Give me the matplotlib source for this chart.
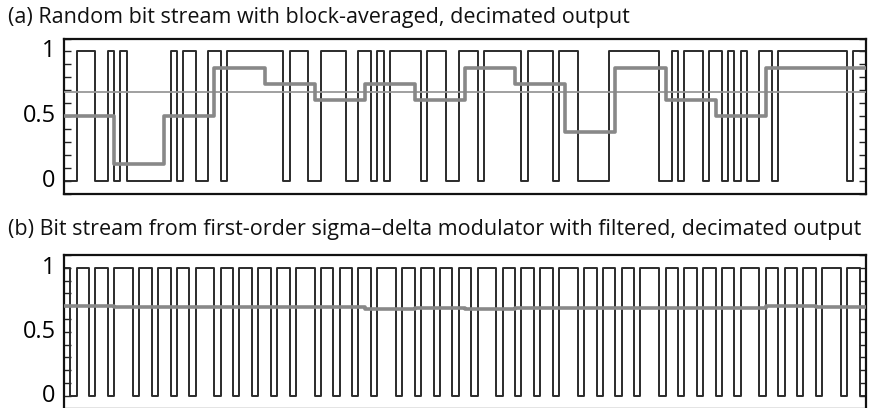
import numpy as np
import matplotlib
matplotlib.use("Agg")
import matplotlib.pyplot as plt
from matplotlib.ticker import MultipleLocator, FixedLocator

plt.rcParams['font.family'] = ['Open Sans', 'DejaVu Sans']

title_a = "(a) Random bit stream with block-averaged, decimated output"
title_b = "(b) Bit stream from first-order sigma\u2013delta modulator with filtered, decimated output"

bits_a = [0, 0, 1, 1, 1, 0, 0, 1, 0, 1, 0, 0, 0, 0, 0, 0,
          0, 1, 0, 1, 1, 0, 0, 1, 1, 0, 1, 1, 1, 1, 1, 1,
          1, 1, 1, 0, 1, 1, 1, 0, 0, 1, 1, 1, 1, 0, 0, 1,
          1, 0, 1, 0, 1, 1, 1, 1, 1, 0, 1, 1, 1, 0, 0, 1,
          1, 1, 0, 1, 1, 1, 1, 1, 1, 0, 1, 1, 1, 1, 0, 1,
          1, 1, 0, 0, 0, 0, 0, 1, 1, 1, 1, 1, 1, 1, 1, 0,
          0, 1, 0, 1, 1, 1, 0, 1, 1, 0, 1, 0, 1, 0, 0, 1,
          1, 0, 1, 1, 1, 1, 1, 1, 1, 1, 1, 1, 1, 0, 1, 1]
block_avg_a = [0.5, 0.125, 0.5, 0.875, 0.75, 0.625, 0.75, 0.625,
               0.875, 0.75, 0.375, 0.875, 0.625, 0.5, 0.875, 0.875]
input_level_a = 0.685

bits_b = [1, 0, 1, 1, 0, 1, 1, 0, 1, 1, 1, 0, 1, 1, 0, 1,
          1, 0, 1, 1, 0, 1, 1, 1, 0, 1, 1, 0, 1, 1, 0, 1,
          1, 0, 1, 1, 0, 1, 1, 1, 0, 1, 1, 0, 1, 1, 0, 1,
          1, 0, 1, 1, 1, 0, 1, 1, 0, 1, 1, 0, 1, 1, 0, 1,
          1, 0, 1, 1, 1, 0, 1, 1, 0, 1, 1, 0, 1, 1, 0, 1,
          1, 1, 0, 1, 1, 0, 1, 1, 0, 1, 1, 0, 1, 1, 1, 0,
          1, 1, 0, 1, 1, 0, 1, 1, 0, 1, 1, 0, 1, 1, 1, 0,
          1, 1, 0, 1, 1, 0, 1, 1, 0, 1, 1, 1, 0, 1, 1, 0]
filtered_b = [0.698, 0.692, 0.697, 0.690, 0.697, 0.690, 0.681, 0.686,
              0.681, 0.686, 0.682, 0.686, 0.686, 0.688, 0.698, 0.691]

block_len = 8
ytick_labels = ["0", "0.5", "1"]

W, H = 871, 408
fig = plt.figure(figsize=(W / 100, H / 100), dpi=100)
renderer = fig.canvas.get_renderer()

def fit_size(text, target_px, base=14.0):
    t = fig.text(0, 0, text, fontsize=base)
    w = t.get_window_extent(renderer=renderer).width
    t.remove()
    return base * target_px / w

title_size = fit_size(title_b, 857)
tick_size = fit_size("0.5", 33)

def make_axes(left, top, right, bottom):
    return fig.add_axes([left / W, 1 - bottom / H, (right - left) / W, (bottom - top) / H])

ax_a = make_axes(64, 38.5, 866, 193.5)
ax_b = make_axes(64, 255, 866, 408.5)

bit_color = "#2b2b2b"
avg_color = "#888888"
const_color = "#999999"

def style(ax):
    ax.set_xlim(0, len(bits_a))
    ax.set_ylim(-0.1, 1.1)
    ax.set_xticks([])
    ax.yaxis.set_major_locator(FixedLocator([0, 0.5, 1]))
    ax.set_yticklabels(ytick_labels)
    ax.yaxis.set_minor_locator(MultipleLocator(0.1))
    ax.tick_params(axis='y', which='both', direction='in', left=True, right=True,
                   length=5.2, width=1.0, color='#222222', labelsize=tick_size, pad=6)
    for lab in ax.get_yticklabels():
        lab.set_va('center')
    for s in ax.spines.values():
        s.set_linewidth(1.6)
        s.set_color('#111111')

def step_xy(vals, step):
    x = np.arange(len(vals) + 1) * step
    y = list(vals) + [vals[-1]]
    return x, y

# panel a
x, y = step_xy(bits_a, 1)
ax_a.step(x, y, where='post', color=bit_color, lw=1.4, zorder=2)
ax_a.plot([0, len(bits_a)], [input_level_a, input_level_a], color=const_color, lw=1.3, zorder=3)
x, y = step_xy(block_avg_a, block_len)
ax_a.step(x, y, where='post', color=avg_color, lw=2.6, zorder=4)
style(ax_a)

# panel b
x, y = step_xy(bits_b, 1)
ax_b.step(x, y, where='post', color=bit_color, lw=1.4, zorder=2)
x, y = step_xy(filtered_b, block_len)
ax_b.step(x, y, where='post', color=avg_color, lw=2.6, zorder=4)
style(ax_b)

fig.text(8 / W, 1 - 17 / H, title_a, fontsize=title_size, ha='left', va='center', color='#111111')
fig.text(8 / W, 1 - 229 / H, title_b, fontsize=title_size, ha='left', va='center', color='#111111')

fig.savefig("out.png", dpi=100)
